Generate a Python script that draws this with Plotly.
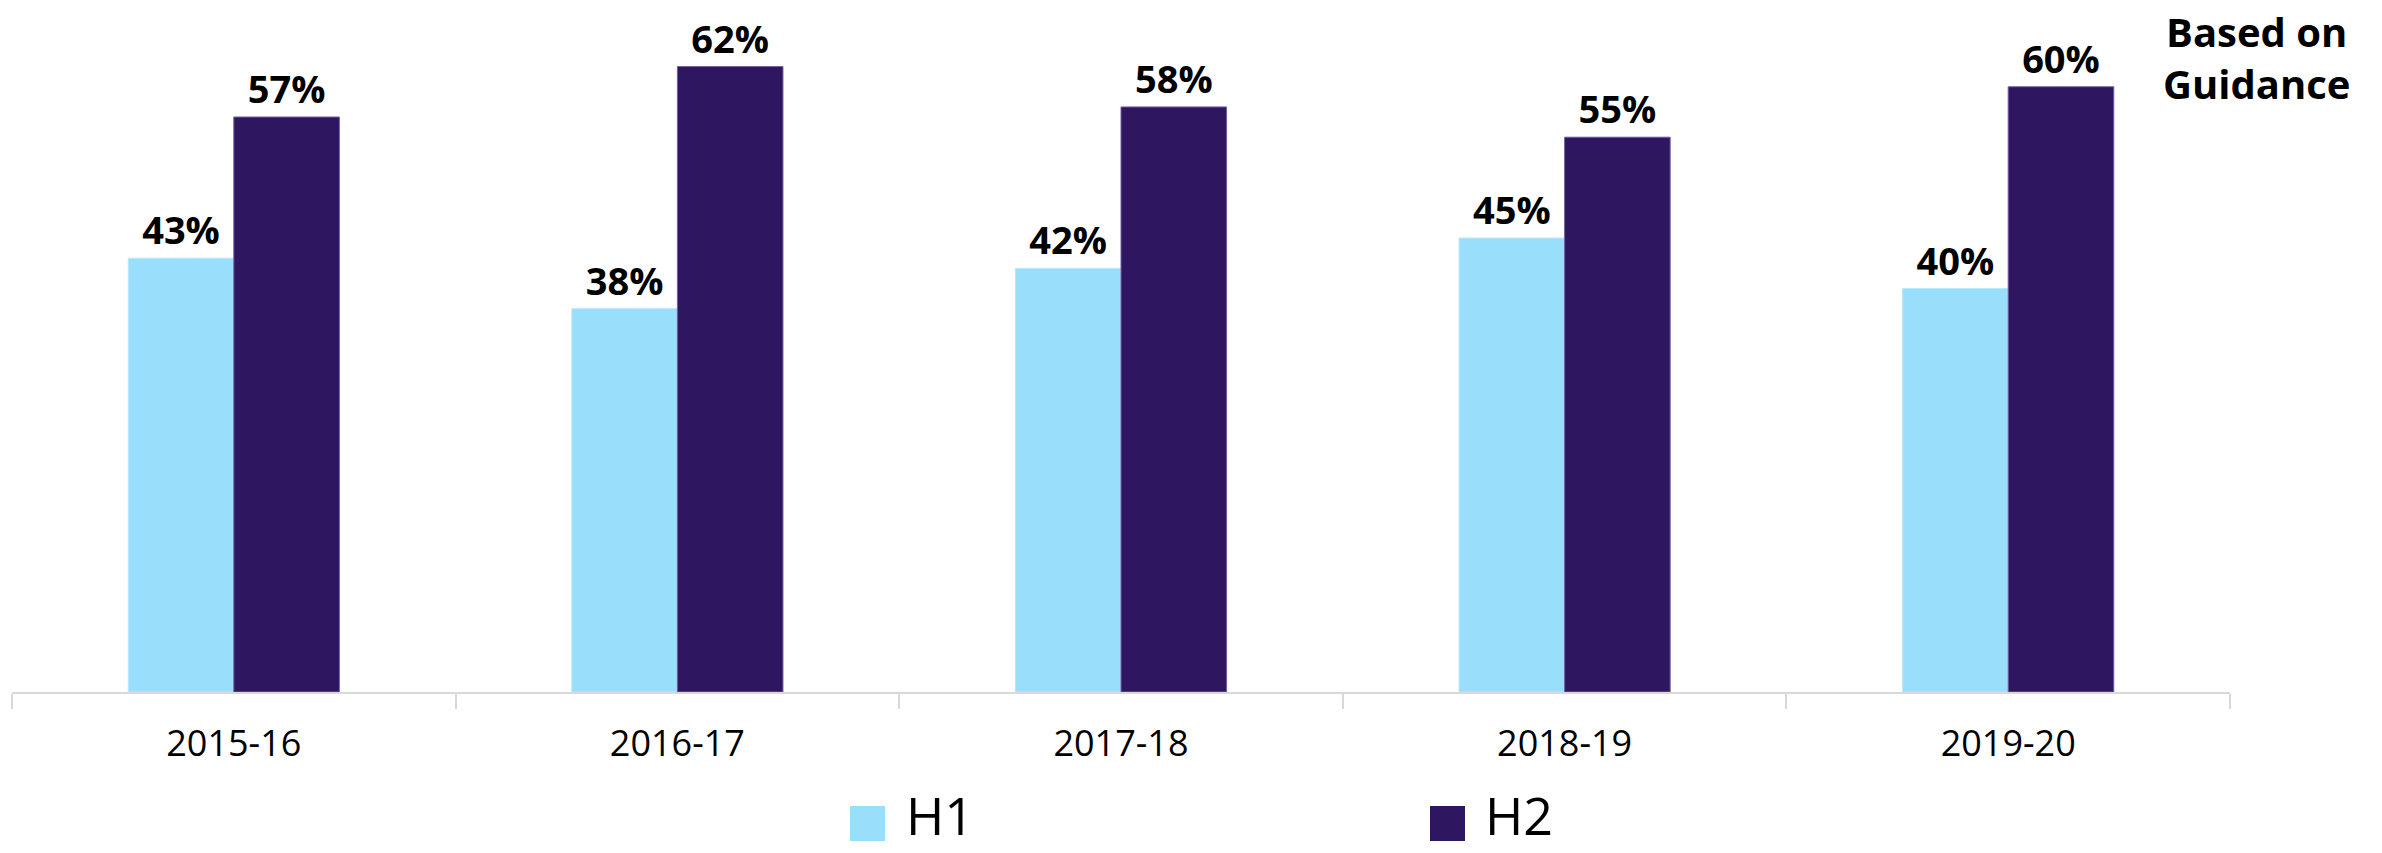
import plotly.graph_objects as go

categories = ["2015-16", "2016-17", "2017-18", "2018-19", "2019-20"]
h1_values = [43, 38, 42, 45, 40]
h2_values = [57, 62, 58, 55, 60]
series_names = ["H1", "H2"]
note_text = "Based on<br>Guidance"

W, H = 2382, 853
ML, MR, MT, MB = 12, 152, 0, 161
PW = W - ML - MR
PH = H - MT - MB

C1 = "#99DFFB"
C2 = "#2E1760"
FONT = "Open Sans"


def px_x(x):
    return (x - ML) / PW


def px_y(y):
    return (H - MB - y) / PH


fig = go.Figure()
for name, vals, col, lc in [(series_names[0], h1_values, C1, "#b8e9fc"),
                            (series_names[1], h2_values, C2, "#6f5f9e")]:
    fig.add_trace(go.Bar(
        x=categories, y=vals, name=name,
        marker=dict(color=col, line=dict(color=lc, width=1)),
        text=[f"{v}%" for v in vals], textposition="outside",
        textfont=dict(family=FONT, size=38, color="#000000", weight="bold"),
        cliponaxis=False, showlegend=False,
    ))

fig.update_layout(
    width=W, height=H,
    margin=dict(l=ML, r=MR, t=MT, b=MB),
    paper_bgcolor="white", plot_bgcolor="white",
    barmode="group", bargap=0.524, bargroupgap=0,
    font=dict(family=FONT, color="#000000"),
    showlegend=False,
    xaxis=dict(
        type="category", showline=True, linecolor="#d9d9d9", linewidth=2,
        ticks="outside", tickson="boundaries", ticklen=15, tickwidth=2,
        tickcolor="#d9d9d9", tickfont=dict(family=FONT, size=36, color="#000000"),
        ticklabelstandoff=19, showgrid=False, zeroline=False,
    ),
    yaxis=dict(range=[0, 68.6], visible=False, showgrid=False, zeroline=False),
)

# custom legend
legend_items = [(series_names[0], C1, 850, 907), (series_names[1], C2, 1430, 1486)]
for name, col, sx, tx in legend_items:
    fig.add_shape(type="rect", xref="paper", yref="paper",
                  x0=px_x(sx), x1=px_x(sx + 35), y0=px_y(806), y1=px_y(841),
                  fillcolor=col, line=dict(width=0))
    fig.add_annotation(text=name, xref="paper", yref="paper",
                       x=px_x(tx - 3), y=px_y(852), xanchor="left", yanchor="bottom",
                       showarrow=False, font=dict(family=FONT, size=52, color="#000000"))

fig.add_annotation(text=note_text, xref="paper", yref="paper",
                   x=px_x(2256), y=px_y(58), xanchor="center", yanchor="middle",
                   showarrow=False, align="center",
                   font=dict(family=FONT, size=40, color="#000000", weight="bold"))

fig.write_html(
    "out.html",
    config={"displayModeBar": False},
    post_script="document.body.style.margin='0';document.body.style.overflow='hidden';",
)
